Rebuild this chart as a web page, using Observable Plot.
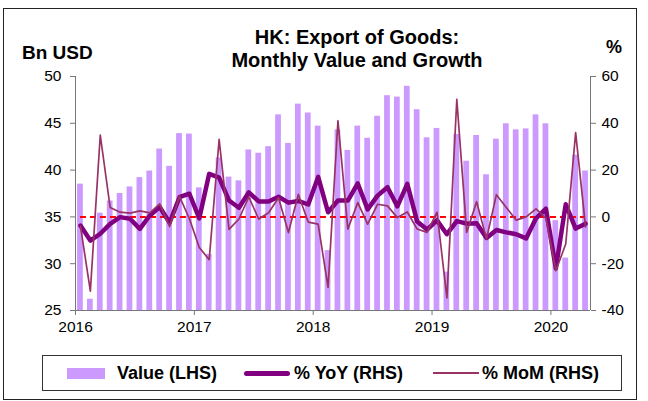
<!DOCTYPE html>
<html>
<head>
<meta charset="utf-8">
<script src="https://cdn.jsdelivr.net/npm/d3@7"></script>
<script src="https://cdn.jsdelivr.net/npm/@observablehq/plot@0.6"></script>
<style>
  html, body { margin: 0; padding: 0; background: #fff; }
  #wrap { position: relative; width: 648px; height: 401px; overflow: hidden; font-family: "Liberation Sans", Arial, sans-serif; color: #000; }
  #frame { position: absolute; left: 3px; top: 8px; width: 634px; height: 392px; border: 1px solid #222; box-sizing: border-box; }
  #chart { position: absolute; left: 0; top: 0; }
  .t { position: absolute; font-weight: bold; white-space: nowrap; }
  #title { left: 0; width: 714px; top: 26px; text-align: center; font-size: 20px; line-height: 23px; }
  #ylab { left: 22px; top: 42px; font-size: 19px; line-height: 22px; }
  #y2lab { left: 606px; top: 37px; font-size: 18px; line-height: 20px; }
  #legend { position: absolute; left: 42px; top: 355px; width: 580px; height: 36px; border: 1px solid #333; box-sizing: border-box; background: #fff; }
  .sw { position: absolute; }
  .lt { position: absolute; font-weight: bold; font-size: 18px; line-height: 20px; top: 363px; white-space: nowrap; }
</style>
</head>
<body>
<div id="wrap">
  <div id="frame"></div>
  <div id="chart"></div>
  <div class="t" id="title">HK: Export of Goods:<br>Monthly Value and Growth</div>
  <div class="t" id="ylab">Bn USD</div>
  <div class="t" id="y2lab">%</div>
  <div id="legend"></div>
</div>
<script>
// Year tick labels (one per January)
const yearLabels = ["2016", "2017", "2018", "2019", "2020"];
// Monthly export value, Bn USD (Jan 2016 .. Apr 2020)
const exportValue = [38.5, 26.2, 35.4, 36.7, 37.5, 38.2, 39.2, 39.9, 42.25, 40.4, 43.9, 43.85,
  38.1, 31.0, 41.3, 39.25, 38.85, 42.15, 41.8, 42.5, 45.9, 42.85, 47.05, 46.1,
  44.7, 31.4, 44.3, 42.1, 44.7, 43.4, 45.75, 47.95, 47.8, 48.95, 46.45, 43.45,
  44.45, 29.1, 43.8, 40.95, 43.7, 39.5, 43.3, 44.95, 44.3, 44.4, 45.9, 44.95,
  34.6, 30.6, 41.6, 39.9];
// % YoY
const yoyPct = [-3.7, -10.1, -7.2, -3.0, -0.1, -0.8, -5.1, 0.6, 4.2, -2.5, 8.4, 9.9,
  -0.6, 18.4, 16.8, 7.0, 3.9, 10.5, 6.6, 6.6, 8.6, 6.1, 6.8, 5.3,
  17.1, 2.0, 7.0, 7.0, 14.3, 3.2, 9.1, 12.7, 4.5, 14.1, -2.0, -5.4,
  -1.5, -7.4, -1.8, -2.9, -2.7, -9.0, -5.6, -6.6, -7.4, -9.2, -0.6, 3.5,
  -22.0, 5.4, -5.0, -2.9];
// % MoM
const momPct = [-3.9, -31.7, 35.0, 4.0, 2.0, 1.6, 2.6, 1.7, 5.6, -4.1, 8.8, -0.8,
  -13.1, -18.3, 33.1, -5.3, -0.9, 8.5, -0.9, 1.8, 8.2, -6.7, 9.6, -2.2,
  -3.1, -30.1, 41.1, -5.2, 6.1, -3.1, 5.4, 4.7, -0.3, 2.1, -5.2, -6.6,
  2.0, -34.6, 50.2, -6.6, 6.5, -9.4, 9.5, 4.0, -1.4, 0.0, 3.4, -0.5,
  -23.0, -11.6, 36.0, -4.3];
// Legend labels
const legendLabels = ["Value (LHS)", "% YoY (RHS)", "% MoM (RHS)"];

// Axis domains
const leftDomain = [25, 50];
const rightDomain = [-40, 60];
const leftTicks = [25, 30, 35, 40, 45, 50];

// map right-axis % onto left-axis units
const r2l = p => leftDomain[0] + (p - rightDomain[0]) * (leftDomain[1] - leftDomain[0]) / (rightDomain[1] - rightDomain[0]);
const l2r = v => rightDomain[0] + (v - leftDomain[0]) * (rightDomain[1] - rightDomain[0]) / (leftDomain[1] - leftDomain[0]);

const rows = exportValue.map((v, i) => ({ i, value: v, yoy: yoyPct[i], mom: momPct[i] }));
const n = rows.length;

const colBar = "#CC99FF", colYoy = "#800080", colMom = "#993366";

const chart = Plot.plot({
  width: 648,
  height: 340,
  marginLeft: 75,
  marginRight: 58,
  marginTop: 76,
  marginBottom: 30,
  style: { fontFamily: "'Liberation Sans', Arial, sans-serif", fontSize: "15.5px", background: "transparent", color: "#000" },
  x: { domain: [0, n] },
  y: { domain: leftDomain },
  marks: [
    Plot.rect(rows, { x1: d => d.i + 0.21, x2: d => d.i + 0.79, y1: () => leftDomain[0], y2: "value", fill: colBar }),
    Plot.ruleY([r2l(0)], { x1: 0.5, x2: n - 0.5, stroke: "#FF0000", strokeWidth: 2, strokeDasharray: "6,4" }),
    Plot.line(rows, { x: d => d.i + 0.5, y: d => r2l(d.yoy), stroke: colYoy, strokeWidth: 4.5, strokeLinejoin: "round" }),
    Plot.line(rows, { x: d => d.i + 0.5, y: d => r2l(d.mom), stroke: colMom, strokeWidth: 1.7, strokeLinejoin: "round" }),
    Plot.ruleX([0, n], { stroke: "#777" }),
    Plot.ruleY([leftDomain[0]], { stroke: "#777" }),
    Plot.axisY({ anchor: "left", ticks: leftTicks, tickSize: 5, tickPadding: 9, label: null, stroke: "#777", fill: "#000" }),
    Plot.axisY({ anchor: "right", ticks: leftTicks, tickFormat: d => String(Math.round(l2r(d))), tickSize: 5, tickPadding: 6, label: null, stroke: "#777", fill: "#000" }),
    Plot.axisX({ ticks: yearLabels.map((_, k) => k * 12), tickFormat: d => yearLabels[d / 12], tickSize: 5, tickPadding: 5, label: null, stroke: "#777", fill: "#000" })
  ]
});
document.getElementById("chart").appendChild(chart);

// Legend (swatches + labels, absolutely placed in the wrapper)
const wrap = document.getElementById("wrap");
const legendSw = [
  { css: `left:67px;top:368px;width:38px;height:11px;background:${colBar}` },
  { css: `left:244px;top:371px;width:46px;height:5px;border-radius:2.5px;background:${colYoy}` },
  { css: `left:433px;top:372px;width:46px;height:2px;background:${colMom}` }
];
const legendX = [117, 294, 482];
legendLabels.forEach((lab, k) => {
  const s = document.createElement("div");
  s.className = "sw";
  s.style.cssText = legendSw[k].css;
  wrap.appendChild(s);
  const t = document.createElement("div");
  t.className = "lt";
  t.style.left = legendX[k] + "px";
  t.textContent = lab;
  wrap.appendChild(t);
});
</script>
</body>
</html>
